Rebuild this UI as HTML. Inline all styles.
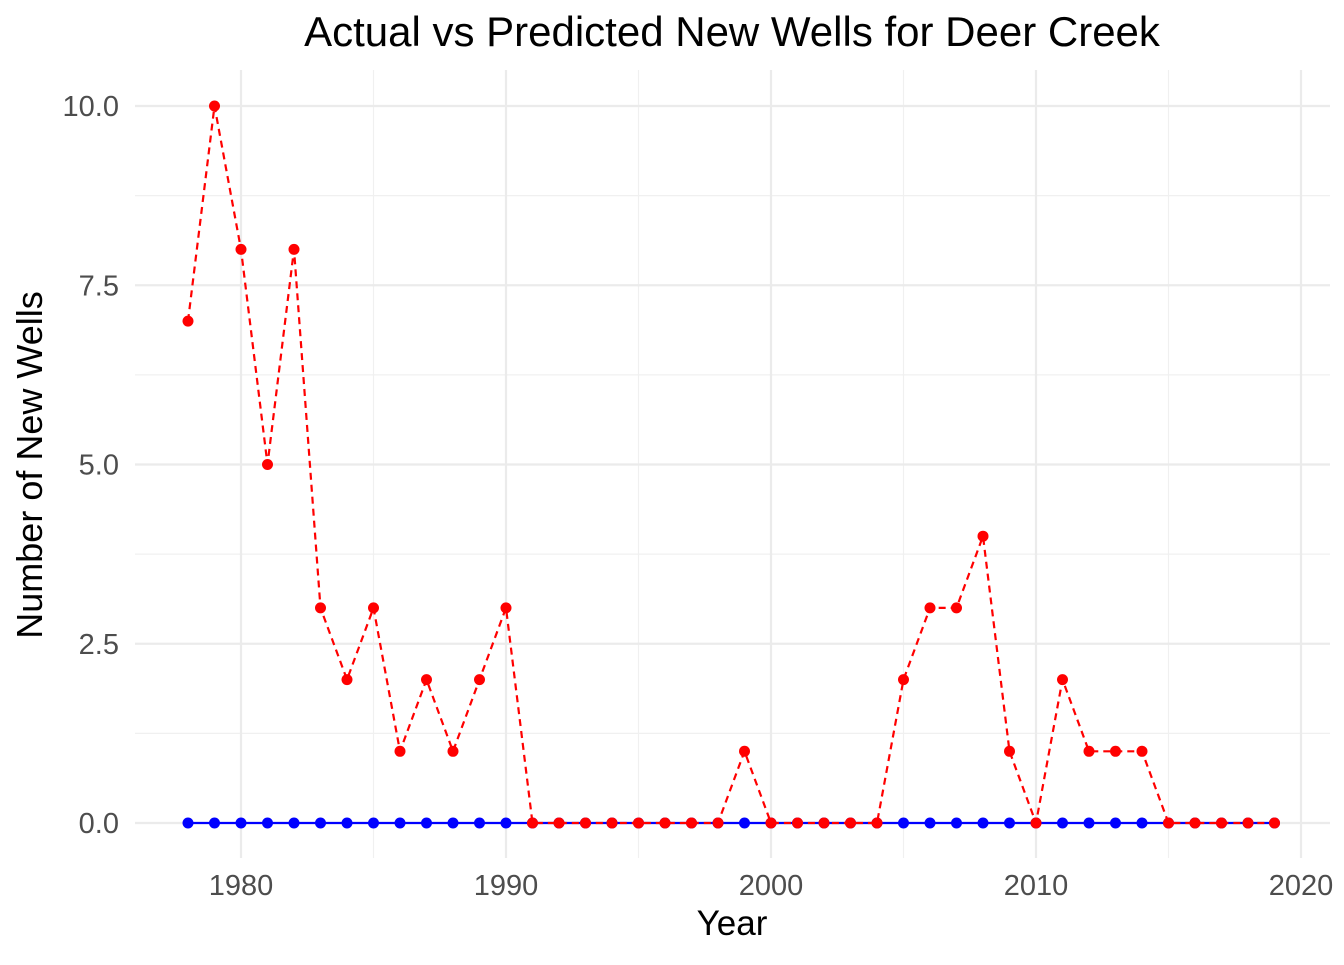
<!DOCTYPE html>
<html><head><meta charset="utf-8"><style>
body{margin:0;background:#fff;}
svg text{font-family:"Liberation Sans",sans-serif;}
</style></head><body>
<svg id="chart" width="1344" height="960" xmlns="http://www.w3.org/2000/svg">
<text x="732" y="46" font-size="42" text-anchor="middle" fill="#000">Actual vs Predicted New Wells for Deer Creek</text>
<g id="grid"></g>
<g id="axes"></g>
<g id="series"></g>
<text x="732" y="935" font-size="35" text-anchor="middle" fill="#000">Year</text>
<text transform="translate(42,465) rotate(-90)" font-size="36" text-anchor="middle" fill="#000">Number of New Wells</text>
</svg>
<script>
const years = [];
for (let y = 1978; y <= 2019; y++) years.push(y);
const actual = [7,10,8,5,8,3,2,3,1,2,1,2,3,0,0,0,0,0,0,0,0,1,0,0,0,0,0,2,3,3,4,1,0,2,1,1,1,0,0,0,0,0];
const predicted = [0,0,0,0,0,0,0,0,0,0,0,0,0,0,0,0,0,0,0,0,0,0,0,0,0,0,0,0,0,0,0,0,0,0,0,0,0,0,0,0,0,0];
const xTicks = [1980,1990,2000,2010,2020];
const xMinor = [1985,1995,2005,2015];
const yTicks = [0,2.5,5,7.5,10];
const yMinor = [1.25,3.75,6.25,8.75];
const yTickLabels = ["0.0","2.5","5.0","7.5","10.0"];

const X = v => 241 + (v - 1980) * 26.5;
const Y = v => 823 - v * 71.7;
const NS = "http://www.w3.org/2000/svg";
function mk(tag, attrs, parent){const e=document.createElementNS(NS,tag);for(const k in attrs)e.setAttribute(k,attrs[k]);parent.appendChild(e);return e;}
const grid=document.getElementById('grid'), axes=document.getElementById('axes'), series=document.getElementById('series');
const L=135,R=1330,T=70,B=858;
yMinor.forEach(v=>{const l=mk('line',{x1:L,x2:R,y1:Y(v),y2:Y(v),stroke:'#f0f0f0','stroke-width':1.2},grid);

});
xMinor.forEach(v=>{const l=mk('line',{x1:X(v),x2:X(v),y1:T,y2:B,stroke:'#f0f0f0','stroke-width':1.2},grid);

});
yTicks.forEach((v,i)=>{const l=mk('line',{x1:L,x2:R,y1:Y(v),y2:Y(v),stroke:'#ebebeb','stroke-width':2.2},grid);


const t=mk('text',{x:119,y:Y(v)+10,'font-size':29,'text-anchor':'end',fill:'#4d4d4d'},axes);t.textContent=yTickLabels[i];

});
xTicks.forEach(v=>{const l=mk('line',{x1:X(v),x2:X(v),y1:T,y2:B,stroke:'#ebebeb','stroke-width':2.2},grid);


const t=mk('text',{x:X(v),y:895,'font-size':29,'text-anchor':'middle',fill:'#4d4d4d'},axes);t.textContent=v;

});
function draw(vals,color,dash,name){
  const p=mk('polyline',{points:vals.map((v,i)=>X(years[i])+','+Y(v)).join(' '),fill:'none',stroke:color,'stroke-width':2.2,'stroke-dasharray':dash},series);
  
  
  vals.forEach((v,i)=>{const c=mk('circle',{cx:X(years[i]),cy:Y(v),r:5.5,fill:color},series);
  
  });
}
draw(predicted,'#0000ff','none','predicted');
draw(actual,'#ff0000','7 5','actual');
</script>
</body></html>
